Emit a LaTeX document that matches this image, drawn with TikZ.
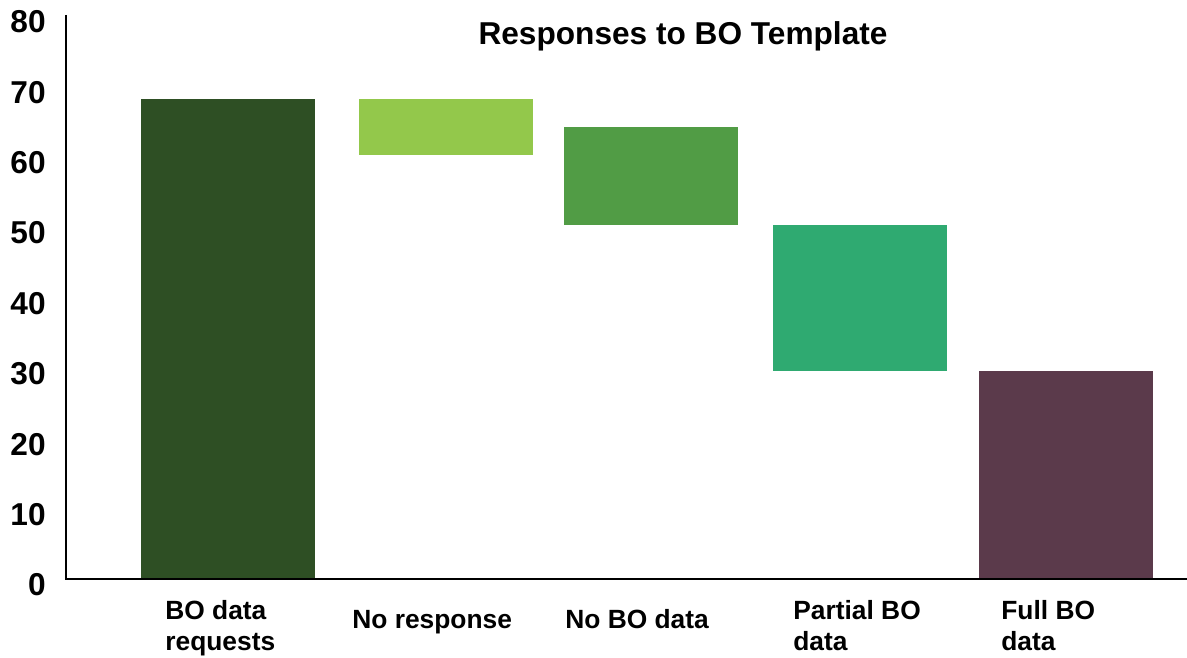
\documentclass[tikz,border=0pt]{standalone}
\usepackage{fontspec}
\setmainfont{Liberation Sans}
\usepackage{xcolor}
\usetikzlibrary{positioning}
\definecolor{bar-dark}{HTML}{2E4F24}
\definecolor{bar-lime}{HTML}{93C84B}
\definecolor{bar-mid}{HTML}{519C45}
\definecolor{bar-teal}{HTML}{2FAA71}
\definecolor{bar-plum}{HTML}{5B3A4B}

\begin{document}
\begin{tikzpicture}[
    x=0.02cm, y=0.02cm,
    tick/.style={anchor=east, inner sep=0pt, font=\fontsize{18}{20}\selectfont\bfseries},
    cat/.style={anchor=base west, inner sep=0pt, align=left, font=\fontsize{15}{17.6}\selectfont\bfseries},
    heading/.style={inner sep=0pt, font=\fontsize{18}{20}\selectfont\bfseries}
]
    \useasboundingbox (0,0) rectangle (1187,657);

    % bars: left / low / high / colour
    \foreach \xl/\lo/\hi/\col [count=\i] in {141/0/69/bar-dark, 359/61/69/bar-lime, 564/51/65/bar-mid, 773/30/51/bar-teal, 979/0/30/bar-plum}
        \fill[\col] (\xl,{78+6.95*\lo}) rectangle ++(174,{6.95*(\hi-\lo)});

    % axes
    \coordinate (top) at (66,642);
    \coordinate (origin) at (66,78);
    \coordinate (right) at (1187,78);
    \draw[line width=1.3pt] (top) -- (origin) -- (right);

    \foreach \v [count=\i from 0] in {0,10,...,80}
        \node[tick] (t\i) at (46,{72+7.04*\v}) {\v};

    \node[heading] (title) at (683,621) {Responses to BO Template};

    \node[cat] (req) at (165,7) {BO data\\requests};
    \node[cat] (nores) at (352,29) {No response};
    \node[cat] (nobo) at (565,29) {No BO data};
    \node[cat] (part) at (793,7) {Partial BO\\data};
    \node[cat] (full) at (1001,7) {Full BO\\data};
\end{tikzpicture}
\end{document}
